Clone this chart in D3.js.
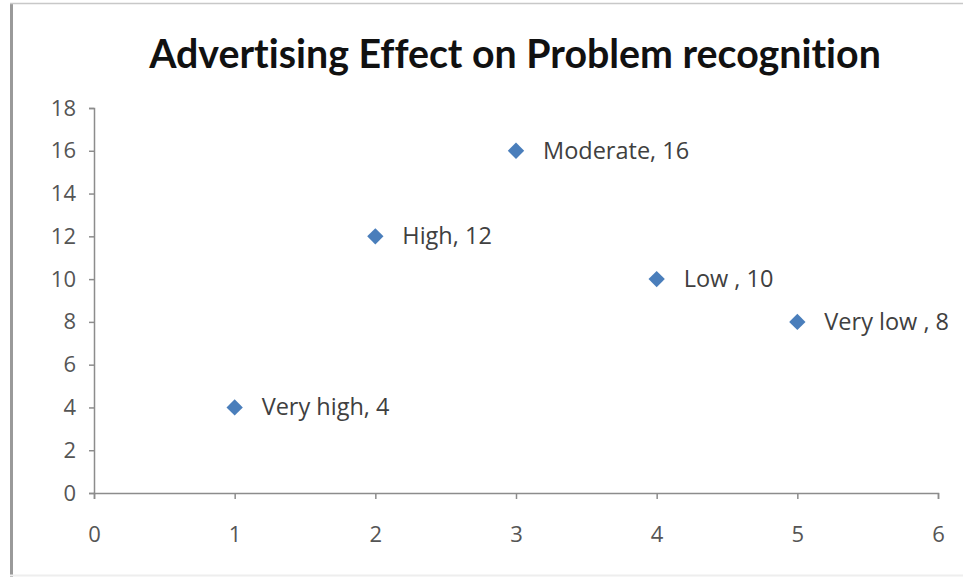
<!DOCTYPE html>
<html><head><meta charset="utf-8">
<script src="https://cdn.jsdelivr.net/npm/d3@7"></script>
<style>body{margin:0;background:#fff;} text{font-family:"Open Sans",Lato,sans-serif;font-variant-ligatures:none;}</style>
</head><body>
<svg id="c" width="963" height="577"></svg>
<script>
const labels = ["Very high", "High", "Moderate", "Low ", "Very low "];
const xValues = [1, 2, 3, 4, 5];
const yValues = [4, 12, 16, 10, 8];
const xTicks = [0, 1, 2, 3, 4, 5, 6];
const yTicks = [0, 2, 4, 6, 8, 10, 12, 14, 16, 18];
const title = "Advertising Effect on Problem recognition";

const svg = d3.select("#c");
svg.append("rect").attr("x",0).attr("y",0).attr("width",963).attr("height",577).attr("fill","#fff");
// frame
svg.append("line").attr("x1",11.5).attr("x2",11.5).attr("y1",3).attr("y2",577).attr("stroke","#9a9a9a").attr("stroke-width",3);
svg.append("line").attr("x1",10).attr("x2",963).attr("y1",3.5).attr("y2",3.5).attr("stroke","#c8c8c8").attr("stroke-width",1.5);
svg.append("line").attr("x1",10).attr("x2",963).attr("y1",575.5).attr("y2",575.5).attr("stroke","#eeeeee").attr("stroke-width",2);

const x = d3.scaleLinear().domain([0,6]).range([94,938]);
const y = d3.scaleLinear().domain([0,18]).range([493,108]);

svg.append("text").attr("x",515).attr("y",68).attr("text-anchor","middle")
  .attr("font-size",39.3).attr("font-weight","bold").attr("fill","#111")
  .style("font-family","Lato").text(title);

const ax = svg.append("g").attr("transform","translate(0,493)")
  .call(d3.axisBottom(x).tickValues(xTicks).tickSize(6).tickPadding(27).tickFormat(d3.format("d")));
const ay = svg.append("g").attr("transform","translate(94,0)")
  .call(d3.axisLeft(y).tickValues(yTicks).tickSize(5).tickPadding(13).tickFormat(d3.format("d")));
[ax,ay].forEach(g=>{
  g.select(".domain").attr("stroke","#8c8c8c").attr("stroke-width",1.5);
  g.selectAll(".tick line").attr("stroke","#8c8c8c").attr("stroke-width",1.5);
  g.selectAll(".tick text").attr("font-size",22).attr("fill","#555").attr("font-family","Open Sans");
});

const pts = xValues.map((v,i)=>({x:v,y:yValues[i],l:labels[i]}));
svg.selectAll("path.pt").data(pts).join("path").attr("class","pt")
  .attr("d", d3.symbol().type(d3.symbolDiamond2).size(170))
  .attr("transform", d=>`translate(${x(d.x)},${y(d.y)})`)
  .attr("fill","#4a7ebb");
svg.selectAll("text.lbl").data(pts).join("text").attr("class","lbl")
  .attr("x", d=>x(d.x)+27).attr("y", d=>y(d.y)+8)
  .attr("font-size",23.5).attr("fill","#404040").text(d=>`${d.l}, ${d.y}`);
</script>
</body></html>
